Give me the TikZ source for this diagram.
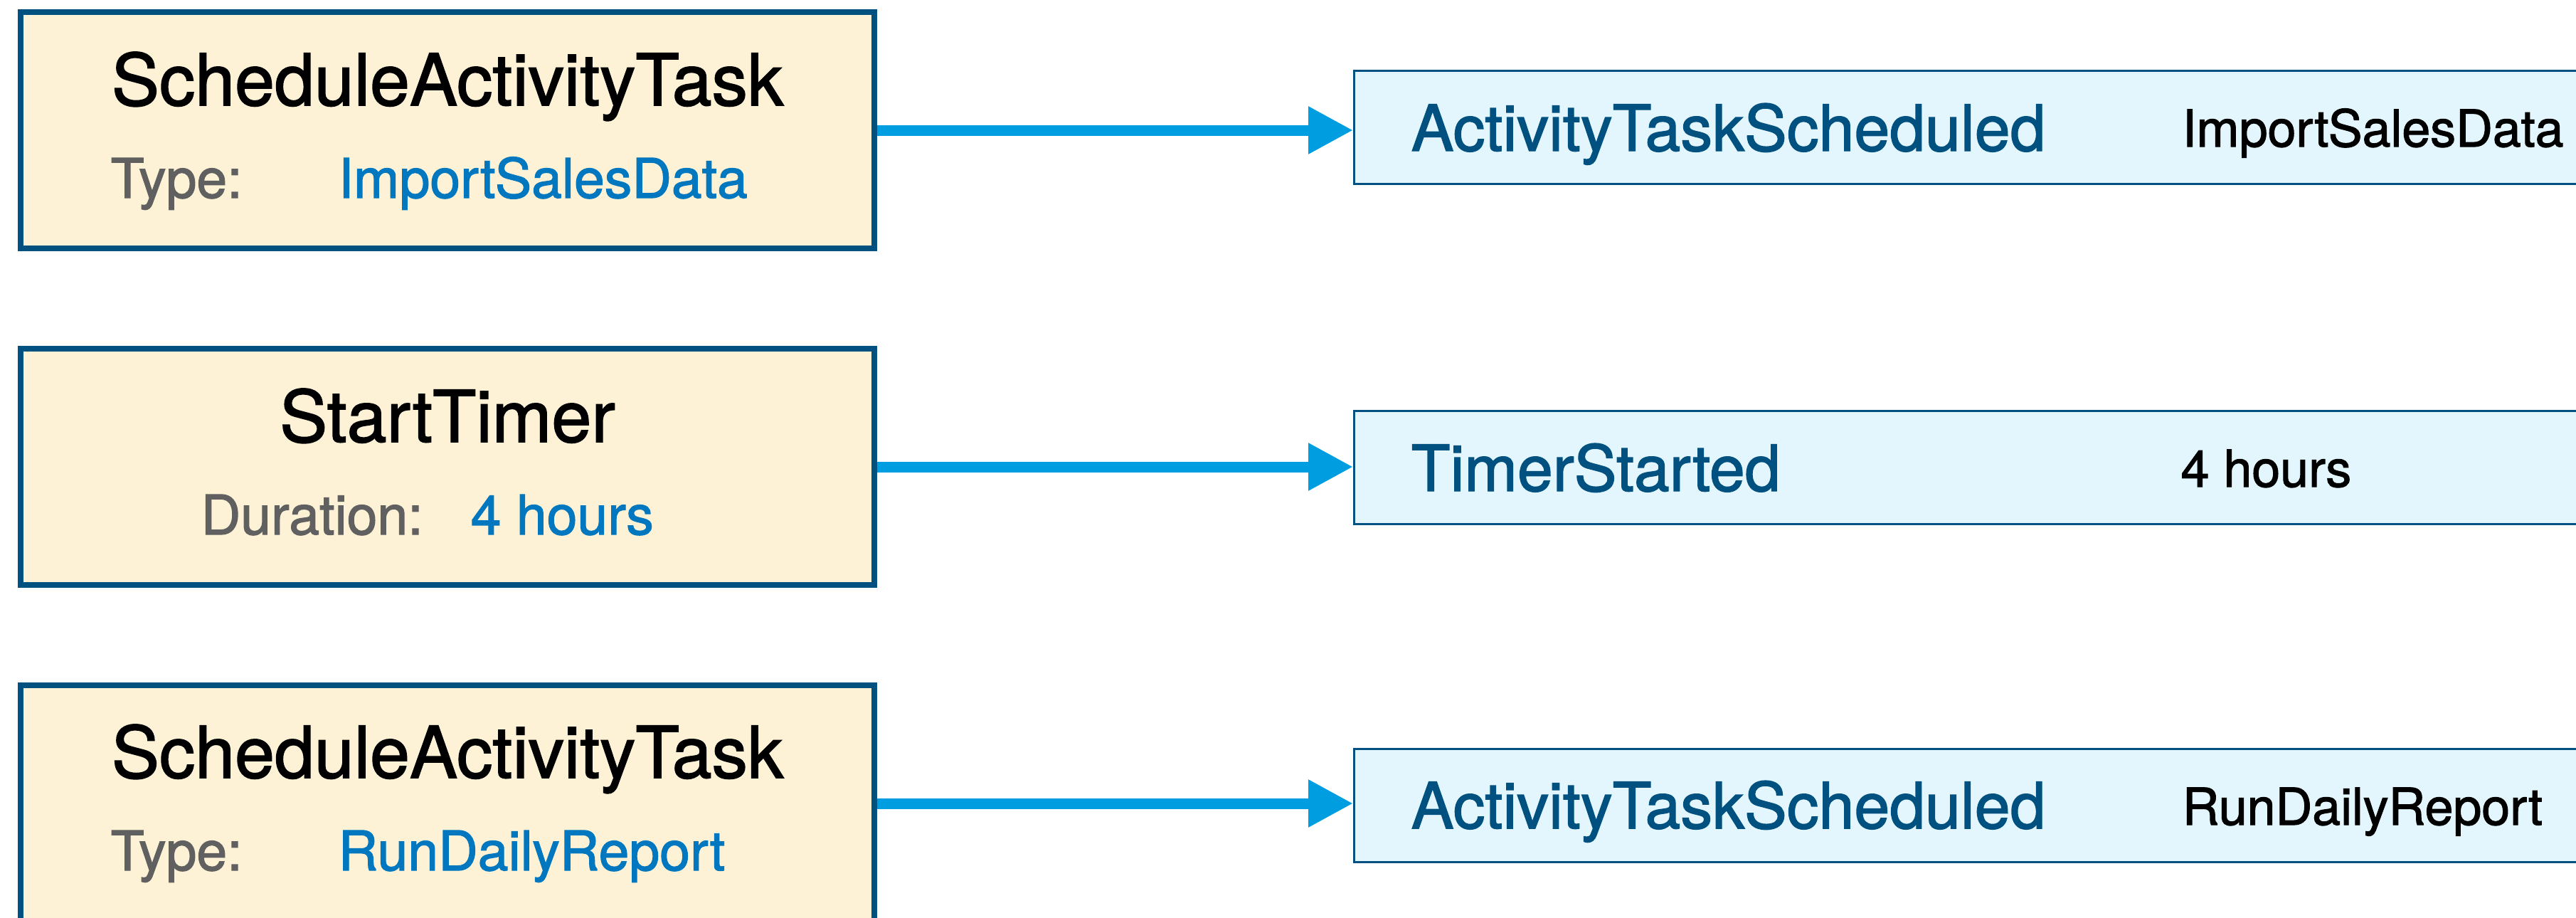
\documentclass[tikz,border=0pt]{standalone}
\usepackage{fontspec}
\setmainfont{TeX Gyre Heros}
\newfontfamily\medfont{TeX Gyre Heros}[FakeBold=1.6]
\usepackage{xcolor}
\usetikzlibrary{arrows.meta,positioning}
\definecolor{cmdborder}{RGB}{0,80,128}
\definecolor{cmdfill}{RGB}{253,242,214}
\definecolor{evfill}{RGB}{227,246,253}
\definecolor{flowblue}{RGB}{0,158,224}
\definecolor{valblue}{RGB}{0,119,190}
\definecolor{keygray}{RGB}{96,96,96}
\tikzset{
  cmdbox/.style={rectangle, draw=cmdborder, fill=cmdfill, line width=0.08cm,
                 minimum width=12cm, minimum height=3.32cm, inner sep=0pt},
  evbox/.style={rectangle, draw=cmdborder, fill=evfill, line width=0.03cm,
                minimum width=17.97cm, minimum height=1.59cm, inner sep=0pt},
  cmdname/.style={anchor=base, inner sep=0pt, font=\medfont\fontsize{28.6}{34}\selectfont},
  attrkey/.style={anchor=base west, inner sep=0pt, text=keygray, font=\medfont\fontsize{21.9}{26}\selectfont},
  attrval/.style={anchor=base west, inner sep=0pt, text=valblue, font=\medfont\fontsize{21.9}{26}\selectfont},
  evname/.style={anchor=base west, inner sep=0pt, text=cmdborder, font=\medfont\fontsize{25.5}{30}\selectfont},
  evval/.style={anchor=base west, inner sep=0pt, font=\medfont\fontsize{20.4}{24}\selectfont},
  flow/.style={-{Triangle[length=0.63cm,width=0.63cm]}, line width=0.15cm, flowblue},
}
\begin{document}
\begin{tikzpicture}
\useasboundingbox (0,0) rectangle (36.21,-12.89);
\clip (0,0) rectangle (36.21,-12.89);
% decisions (left)
\node[cmdbox] (cmd1) at (6.29,-1.83) {};
\node[cmdbox] (cmd2) at (6.29,-6.56) {};
\node[cmdbox] (cmd3) at (6.29,-11.29) {};
\node[cmdname] (cmd1n) at (6.29,-1.48) {ScheduleActivityTask};
\node[attrkey] (cmd1k) at (1.55,-2.78) {Type:};
\node[attrval] (cmd1v) at (4.75,-2.78) {ImportSalesData};
\node[cmdname] (cmd2n) at (6.29,-6.21) {StartTimer};
\node[attrkey] (cmd2k) at (2.82,-7.51) {Duration:};
\node[attrval] (cmd2v) at (6.61,-7.51) {4 hours};
\node[cmdname] (cmd3n) at (6.29,-10.93) {ScheduleActivityTask};
\node[attrkey] (cmd3k) at (1.55,-12.23) {Type:};
\node[attrval] (cmd3v) at (4.75,-12.23) {RunDailyReport};
% history events (right)
\node[evbox] (ev1) at (28.02,-1.79) {};
\node[evbox] (ev2) at (28.02,-6.565) {};
\node[evbox] (ev3) at (28.02,-11.32) {};
\node[evname] (ev1n) at (19.83,-2.12) {ActivityTaskScheduled};
\node[evval] (ev1v) at (30.67,-2.06) {ImportSalesData};
\node[evname] (ev2n) at (19.83,-6.90) {TimerStarted};
\node[evval] (ev2v) at (30.65,-6.84) {4 hours};
\node[evname] (ev3n) at (19.83,-11.64) {ActivityTaskScheduled};
\node[evval] (ev3v) at (30.67,-11.59) {RunDailyReport};
% arrows
\foreach \i in {1,2,3}
  \draw[flow] (cmd\i.east) -- (cmd\i.east -| ev\i.west);
\end{tikzpicture}
\end{document}
